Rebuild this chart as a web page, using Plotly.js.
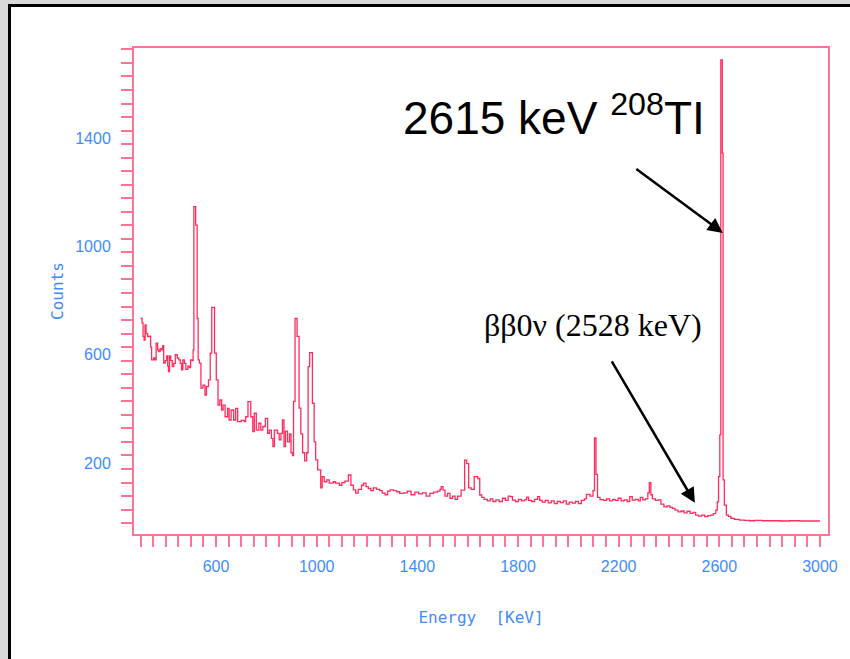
<!DOCTYPE html>
<html>
<head>
<meta charset="utf-8">
<script src="https://cdn.plot.ly/plotly-3.0.1.min.js"></script>
<style>html,body{margin:0;padding:0;background:#d9d9d9;}#chart{width:850px;height:659px;}</style>
</head>
<body>
<div id="chart"></div>
<script>
// Spectrum bins: lower edge energy (keV) and counts
const energy = [300,306,310,314,318,322,328,334,340,344,352,357,362,368,372,378,384,388,392,398,
404,408,411,415,420,426,432,438,446,452,458,463,468,474,480,488,494,499,505,509,
512,519,525,529,534,540,548,556,562,570,577,583,594,601,608,615,622,628,636,646,
652,660,670,678,686,700,712,718,727,738,746,752,760,770,778,786,796,805,812,820,
826,832,844,851,858,864,870,876,884,892,898,904,908,914,922,930,937,944,952,960,
966,972,983,990,996,1004,1016,1022,1030,1040,1050,1066,1075,1090,1100,1112,1126,1136,1146,1155,
1165,1178,1186,1196,1205,1215,1225,1238,1250,1260,1272,1282,1292,1305,1318,1330,1345,1360,1375,1390,
1405,1420,1435,1450,1465,1480,1490,1495,1502,1510,1520,1530,1540,1550,1560,1574,1588,1596,1604,1614,
1626,1640,1648,1656,1665,1678,1690,1700,1712,1725,1738,1750,1761,1770,1778,1790,1802,1814,1826,1834,
1842,1854,1866,1878,1886,1896,1908,1920,1932,1944,1956,1968,1980,1992,2004,2016,2028,2040,2052,2064,
2072,2086,2098,2104,2110,2116,2126,2140,2152,2164,2176,2186,2198,2210,2222,2234,2244,2254,2266,2278,
2286,2296,2306,2316,2322,2328,2334,2346,2358,2368,2380,2392,2404,2414,2424,2436,2448,2460,2472,2484,
2496,2506,2518,2530,2542,2554,2566,2576,2586,2592,2597,2602,2606,2612,2615,2620,2628,2636,2646,2660,
2680,2700,2720,2740,2770,2800,2840,2880,2920,2960,3000];
const counts = [756,740,690,676,732,700,689,691,650,603,610,603,665,640,634,645,640,656,591,600,
618,580,560,618,600,578,590,622,610,603,590,566,603,590,568,580,575,603,600,640,
1169,1101,756,603,591,499,510,473,504,529,628,797,628,529,436,455,418,436,393,424,
381,418,381,424,375,380,375,393,449,393,338,406,344,369,344,357,387,332,344,313,
283,344,332,308,332,381,283,340,300,330,260,250,450,756,690,425,330,260,230,260,
578,630,443,300,234,197,130,172,153,160,148,153,148,140,150,155,178,140,123,111,
125,140,148,135,128,120,130,125,120,111,105,118,123,120,116,110,112,118,105,115,
108,112,100,110,115,118,125,135,122,100,110,92,100,88,100,122,233,220,130,125,
172,165,104,95,88,82,90,80,86,80,92,84,100,98,85,80,88,82,86,96,
84,80,88,98,84,78,84,75,82,72,80,76,82,70,78,74,80,72,84,90,
106,100,120,315,180,95,87,84,90,82,88,84,92,82,86,80,98,85,88,82,
95,86,90,112,150,105,90,84,86,70,60,64,58,55,48,42,45,38,44,36,
40,30,26,30,24,28,30,35,48,79,172,326,1711,1367,160,67,30,25,18,14,
11,10,9,10,9,9,8,9,8,8,8];

const pink = '#ff7394';
const blue = '#3f8cff';
const L = 134, R = 22, T = 48, B = 125, W = 850, H = 659;
const pw = W - L - R, ph = H - T - B;
const px = v => (v - L) / pw;
const py = v => (H - B - v) / ph;

const trace = {
  x: energy, y: counts, type: 'scatter', mode: 'lines',
  line: {shape: 'hv', color: '#ff2d5e', width: 1.3},
  hoverinfo: 'x+y'
};

const tickfont = {family: 'Liberation Sans, Arial, sans-serif', size: 16, color: blue};
const titlefont = {family: 'DejaVu Sans Mono, monospace', size: 16, color: blue};

const layout = {
  width: W, height: H,
  margin: {l: L, r: R, t: T, b: B},
  paper_bgcolor: '#d9d9d9',
  plot_bgcolor: 'white',
  showlegend: false,
  xaxis: {
    range: [274, 3032], showgrid: false, zeroline: false,
    showline: true, linecolor: pink, linewidth: 2, mirror: true,
    ticks: 'outside', ticklen: 11, tickwidth: 2, tickcolor: pink,
    tickmode: 'linear', tick0: 200, dtick: 400,
    minor: {tickmode: 'linear', tick0: 300, dtick: 50, ticks: 'outside', ticklen: 11, tickwidth: 2, tickcolor: pink},
    tickfont: tickfont, ticklabelstandoff: 6,
    title: {text: 'Energy  [KeV]', font: titlefont, standoff: 38}
  },
  yaxis: {
    range: [-40, 1755], showgrid: false, zeroline: false,
    showline: true, linecolor: pink, linewidth: 2, mirror: true,
    ticks: 'outside', ticklen: 11, tickwidth: 2, tickcolor: pink,
    tickmode: 'linear', tick0: 200, dtick: 400,
    minor: {tickmode: 'linear', tick0: 0, dtick: 50, ticks: 'outside', ticklen: 11, tickwidth: 2, tickcolor: pink},
    tickfont: tickfont, ticklabelstandoff: 7, ticklabelshift: -6,
    title: {text: 'Counts', font: titlefont, standoff: 8}
  },
  shapes: [
    {type: 'rect', xref: 'paper', yref: 'paper', layer: 'below',
     x0: px(8), x1: px(852), y0: py(662), y1: py(4), fillcolor: 'black', line: {width: 0}},
    {type: 'rect', xref: 'paper', yref: 'paper', layer: 'below',
     x0: px(11), x1: px(852), y0: py(662), y1: py(7), fillcolor: 'white', line: {width: 0}}
  ],
  annotations: [
    {xref: 'paper', yref: 'paper', x: px(554), y: py(115), xanchor: 'center', yanchor: 'middle',
     text: '2615 keV <sup>208</sup>TI', showarrow: false,
     font: {family: 'Liberation Sans, Arial, sans-serif', size: 46, color: 'black'}},
    {xref: 'paper', yref: 'paper', x: px(593), y: py(325), xanchor: 'center', yanchor: 'middle',
     text: 'ββ0ν (2528 keV)', showarrow: false,
     font: {family: 'Liberation Serif, Times New Roman, serif', size: 32, color: 'black'}},
    {x: 2614, y: 1072, xref: 'x', yref: 'y', text: '', showarrow: true,
     ax: -88, ay: -65, arrowhead: 2, arrowsize: 1.2, arrowwidth: 2.5, arrowcolor: 'black', standoff: 0},
    {x: 2503, y: 75, xref: 'x', yref: 'y', text: '', showarrow: true,
     ax: -84, ay: -143, arrowhead: 2, arrowsize: 1.2, arrowwidth: 2.5, arrowcolor: 'black', standoff: 0}
  ]
};

Plotly.newPlot('chart', [trace], layout, {displayModeBar: false, staticPlot: true});
</script>
</body>
</html>
